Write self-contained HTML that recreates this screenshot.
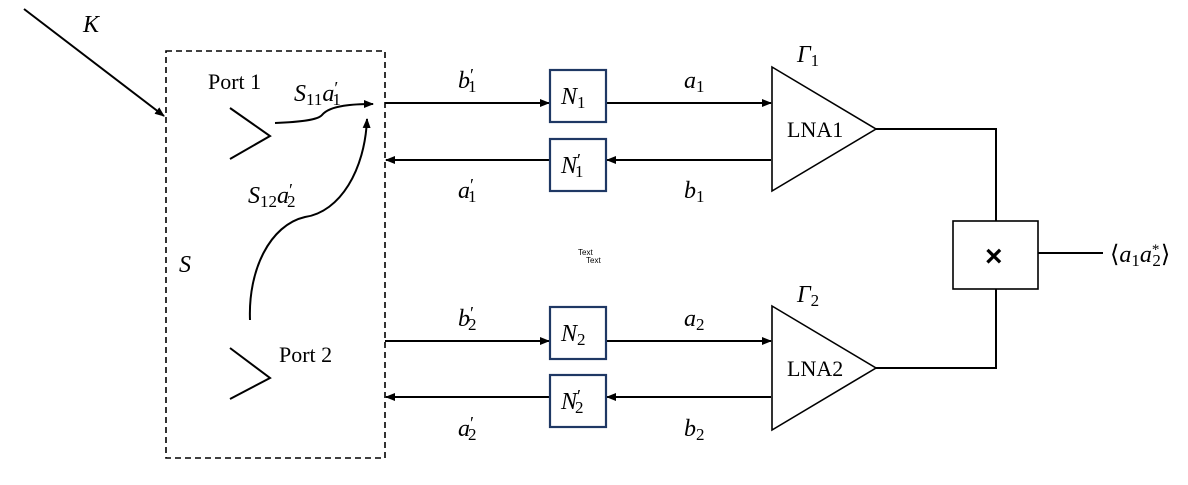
<!DOCTYPE html>
<html><head><meta charset="utf-8"><style>
html,body{margin:0;padding:0;background:#fff;}
svg{display:block;}
.m{font-family:"Liberation Serif",serif;font-style:italic;font-size:24px;}
.r{font-family:"Liberation Serif",serif;font-size:22px;}
</style></head><body>
<svg width="1188" height="485" viewBox="0 0 1188 485" xmlns="http://www.w3.org/2000/svg">
<defs>
<marker id="a" markerWidth="10" markerHeight="8" refX="9" refY="4" orient="auto" markerUnits="userSpaceOnUse">
<path d="M0,0 L10,4 L0,8 Z" fill="#000"/></marker>
</defs>
<g stroke="#000" stroke-width="2" fill="none">
<line x1="24" y1="9" x2="164" y2="116" marker-end="url(#a)"/>
<rect x="166" y="51" width="219" height="407" stroke-dasharray="6,4" stroke-width="1.6"/>
<polyline points="230,108 270,136 230,159"/>
<polyline points="230,348 270,378 230,399"/>
<path d="M275,123 C300,122 318,120 322,115 C330,105 355,104 373,104" marker-end="url(#a)"/>
<path d="M250,320 C248,270 270,225 305,217 C340,212 365,170 367,119" marker-end="url(#a)"/>
<line x1="385" y1="103" x2="549" y2="103" marker-end="url(#a)"/>
<line x1="549" y1="160" x2="386" y2="160" marker-end="url(#a)"/>
<line x1="606" y1="103" x2="771" y2="103" marker-end="url(#a)"/>
<line x1="771" y1="160" x2="607" y2="160" marker-end="url(#a)"/>
<line x1="385" y1="341" x2="549" y2="341" marker-end="url(#a)"/>
<line x1="549" y1="397" x2="386" y2="397" marker-end="url(#a)"/>
<line x1="606" y1="341" x2="771" y2="341" marker-end="url(#a)"/>
<line x1="771" y1="397" x2="607" y2="397" marker-end="url(#a)"/>
<polygon points="772,67 876,129 772,191" stroke-width="1.6"/>
<polygon points="772,306 876,368 772,430" stroke-width="1.6"/>
<polyline points="876,129 996,129 996,221"/>
<polyline points="876,368 996,368 996,289"/>
<rect x="953" y="221" width="85" height="68" stroke-width="1.6"/>
<line x1="1038" y1="253" x2="1103" y2="253"/>
</g>
<g stroke="#1f3864" stroke-width="2.2" fill="#fff">
<rect x="550" y="70" width="56" height="52"/>
<rect x="550" y="139" width="56" height="52"/>
<rect x="550" y="307" width="56" height="52"/>
<rect x="550" y="375" width="56" height="52"/>
</g>
<text class="m" x="83" y="32">K</text>
<text class="m" x="179" y="272">S</text>
<text class="r" x="208" y="89">Port 1</text>
<text class="r" x="279" y="362">Port 2</text>
<text class="m" x="294" y="101">S<tspan font-size="17" dy="4" font-style="normal">11</tspan><tspan dy="-4">a</tspan><tspan font-size="18" dy="-7" font-style="normal">′</tspan><tspan font-size="17" dx="-6" dy="11" font-style="normal">1</tspan></text>
<text class="m" x="248" y="203">S<tspan font-size="17" dy="4" font-style="normal">12</tspan><tspan dy="-4">a</tspan><tspan font-size="18" dy="-7" font-style="normal">′</tspan><tspan font-size="17" dx="-6" dy="11" font-style="normal">2</tspan></text>
<text class="m" x="458" y="88">b<tspan font-size="18" dy="-7" font-style="normal">′</tspan><tspan font-size="17" dx="-6" dy="11" font-style="normal">1</tspan></text>
<text class="m" x="458" y="198">a<tspan font-size="18" dy="-7" font-style="normal">′</tspan><tspan font-size="17" dx="-6" dy="11" font-style="normal">1</tspan></text>
<text class="m" x="458" y="326">b<tspan font-size="18" dy="-7" font-style="normal">′</tspan><tspan font-size="17" dx="-6" dy="11" font-style="normal">2</tspan></text>
<text class="m" x="458" y="436">a<tspan font-size="18" dy="-7" font-style="normal">′</tspan><tspan font-size="17" dx="-6" dy="11" font-style="normal">2</tspan></text>
<text class="m" x="684" y="88">a<tspan font-size="17" dy="4" font-style="normal">1</tspan></text>
<text class="m" x="684" y="198">b<tspan font-size="17" dy="4" font-style="normal">1</tspan></text>
<text class="m" x="684" y="326">a<tspan font-size="17" dy="4" font-style="normal">2</tspan></text>
<text class="m" x="684" y="436">b<tspan font-size="17" dy="4" font-style="normal">2</tspan></text>
<text class="m" x="561" y="104">N<tspan font-size="17" dy="4" font-style="normal">1</tspan></text>
<text class="m" x="561" y="173">N<tspan font-size="18" dy="-7" font-style="normal">′</tspan><tspan font-size="17" dx="-6" dy="11" font-style="normal">1</tspan></text>
<text class="m" x="561" y="341">N<tspan font-size="17" dy="4" font-style="normal">2</tspan></text>
<text class="m" x="561" y="409">N<tspan font-size="18" dy="-7" font-style="normal">′</tspan><tspan font-size="17" dx="-6" dy="11" font-style="normal">2</tspan></text>
<text class="m" x="797" y="62">Γ<tspan font-size="17" dy="4" font-style="normal">1</tspan></text>
<text class="m" x="797" y="302">Γ<tspan font-size="17" dy="4" font-style="normal">2</tspan></text>
<text class="r" x="787" y="137" font-size="23">LNA1</text>
<text class="r" x="787" y="376" font-size="23">LNA2</text>
<text font-family="Liberation Sans,sans-serif" font-size="30" font-weight="bold" x="985" y="266">×</text>
<text class="m" x="1110" y="262"><tspan font-style="normal">⟨</tspan>a<tspan font-size="17" dy="4" font-style="normal">1</tspan><tspan dy="-4">a</tspan><tspan font-size="15" dy="-8" font-style="normal">*</tspan><tspan font-size="17" dx="-7" dy="12" font-style="normal">2</tspan><tspan dy="-4" font-style="normal">⟩</tspan></text>
<text font-family="Liberation Sans,sans-serif" font-size="8" x="578" y="255">Text</text>
<text font-family="Liberation Sans,sans-serif" font-size="8" x="586" y="263">Text</text>
</svg>
</body></html>
